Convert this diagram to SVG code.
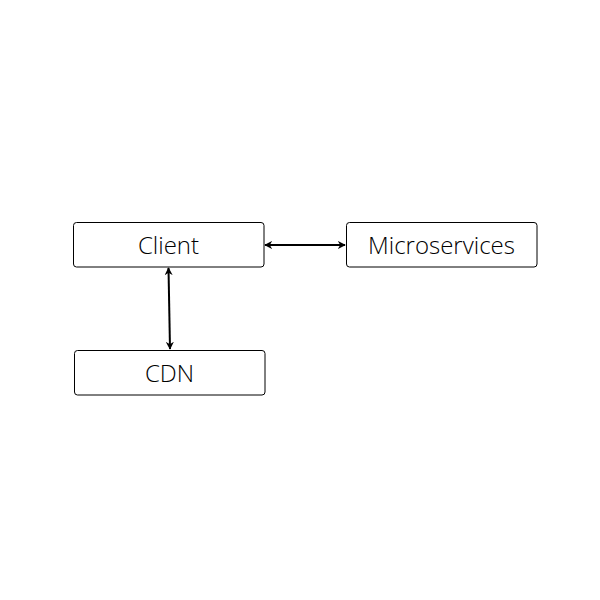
<svg xmlns="http://www.w3.org/2000/svg" width="600" height="600" viewBox="0 0 600 600">
<style>
.box{fill:#fff;stroke:#000;stroke-width:1}
.lbl{font-family:"Open Sans","Noto Sans",sans-serif;font-weight:300;font-size:24px;fill:#000;text-anchor:middle}
.conn{stroke:#000;stroke-width:2;fill:none;marker-start:url(#ah);marker-end:url(#ah)}
</style>
<defs>
<marker id="ah" viewBox="0 0 10 10" refX="9" refY="5" markerWidth="4" markerHeight="4" orient="auto-start-reverse" markerUnits="strokeWidth">
<path d="M0,0 L10,5 L0,10 L3,5 Z" fill="#000"/>
</marker>
</defs>
<rect width="600" height="600" fill="#fff"/>
<g id="connectors">
<line class="conn" x1="265" y1="245" x2="345" y2="245"/>
<line class="conn" x1="168.5" y1="268" x2="170" y2="349"/>
</g>
<g id="client">
<rect class="box" x="73.5" y="222.5" width="190.5" height="44.5" rx="3"/>
<text class="lbl" x="168.5" y="254">Client</text>
</g>
<g id="microservices">
<rect class="box" x="346.5" y="222.5" width="190.5" height="44.5" rx="3"/>
<text class="lbl" x="441.5" y="254">Microservices</text>
</g>
<g id="cdn">
<rect class="box" x="74.5" y="350.5" width="190.5" height="44.5" rx="3"/>
<text class="lbl" x="169.5" y="382">CDN</text>
</g>
</svg>
